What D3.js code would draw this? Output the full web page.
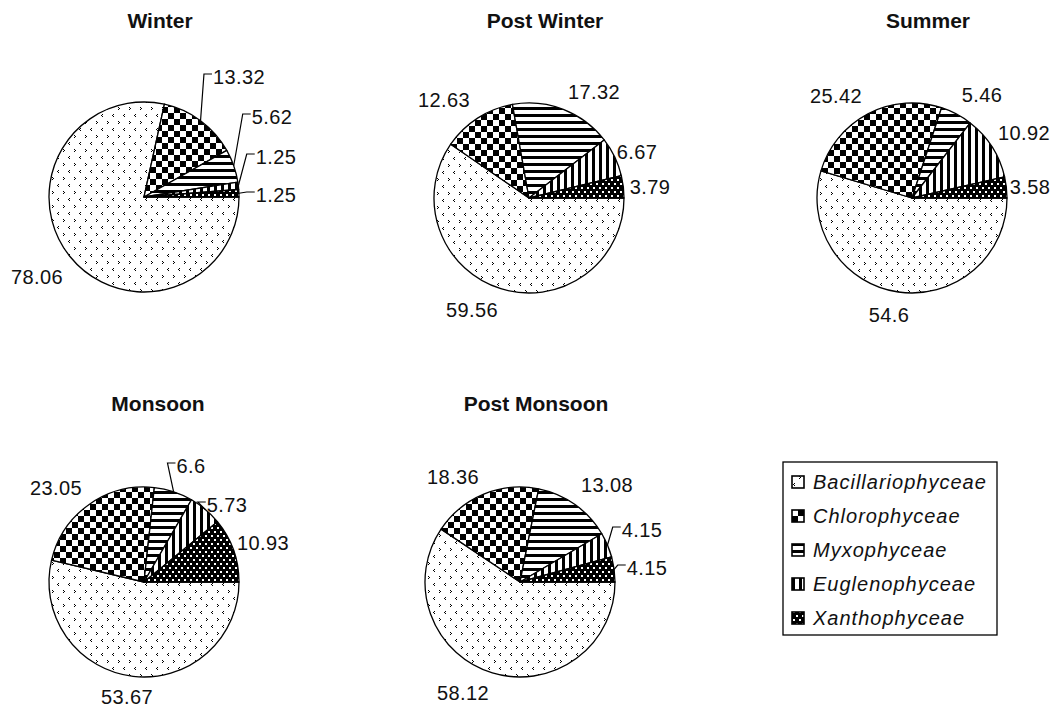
<!DOCTYPE html>
<html>
<head>
<meta charset="utf-8">
<script src="https://cdn.jsdelivr.net/npm/d3@7"></script>
<style>
  body { margin: 0; background: #fff; }
  svg { display: block; }
</style>
</head>
<body>
<svg id="chart" width="1059" height="709"></svg>
<script>
// Phytoplankton class composition (%) by season
const groups = ["Bacillariophyceae", "Chlorophyceae", "Myxophyceae", "Euglenophyceae", "Xanthophyceae"];
const seasons = ["Winter", "Post Winter", "Summer", "Monsoon", "Post Monsoon"];
const winter      = [78.06, 13.32, 5.62, 1.25, 1.25];
const postWinter  = [59.56, 12.63, 17.32, 6.67, 3.79];
const summer      = [54.6, 25.42, 5.46, 10.92, 3.58];
const monsoon     = [53.67, 23.05, 6.6, 5.73, 10.93];
const postMonsoon = [58.12, 18.36, 13.08, 4.15, 4.15];
const seasonValues = [winter, postWinter, summer, monsoon, postMonsoon];

// Layout: pie centres, title positions and label offsets (dx, dy from pie centre, leader line flag)
const R = 95;
const layout = [
  { cx: 144, cy: 197, tx: 160, ty: 20, labels: [[-107, 80, 0], [95, -120, 1], [128, -80, 1], [132, -40, 1], [132, -2, 1]] },
  { cx: 529, cy: 198, tx: 545, ty: 20, labels: [[-57, 112, 0], [-85, -98, 0], [65, -106, 0], [108, -46, 0], [121, -11, 0]] },
  { cx: 912, cy: 198, tx: 928, ty: 20, labels: [[-23, 117, 0], [-76, -102, 0], [70, -103, 0], [112, -65, 0], [118, -11, 0]] },
  { cx: 144, cy: 582, tx: 158, ty: 403, labels: [[-17, 115, 0], [-88, -94, 0], [47, -116, 1], [83, -77, 1], [119, -39, 0]] },
  { cx: 520, cy: 582, tx: 536, ty: 403, labels: [[-57, 111, 0], [-67, -105, 0], [87, -97, 0], [122, -52, 1], [127, -14, 1]] }
];

const svg = d3.select("#chart");
const defs = svg.append("defs");

function pattern(id, w, h, bg) {
  const p = defs.append("pattern")
    .attr("id", id)
    .attr("patternUnits", "userSpaceOnUse")
    .attr("width", w).attr("height", h);
  p.append("rect").attr("width", w).attr("height", h).attr("fill", bg);
  return p;
}
function px(p, pts, color, size) {
  pts.forEach(([x, y]) => p.append("rect")
    .attr("x", x).attr("y", y)
    .attr("width", size || 1).attr("height", size || 1)
    .attr("fill", color));
}

// Bacillariophyceae: sparse chevrons, "<" and ">" on alternate rows
const pBac = pattern("pat-bac", 11, 14, "#fff");
px(pBac, [[2, 1], [1, 2], [2, 3]], "#000");
px(pBac, [[7, 8], [8, 9], [7, 10]], "#000");
// Chlorophyceae: checkerboard
const pChl = pattern("pat-chl", 12, 12, "#fff");
pChl.append("rect").attr("x", 0).attr("y", 0).attr("width", 6).attr("height", 6).attr("fill", "#000");
pChl.append("rect").attr("x", 6).attr("y", 6).attr("width", 6).attr("height", 6).attr("fill", "#000");
// Myxophyceae: horizontal lines
const pMyx = pattern("pat-myx", 4, 7, "#fff");
pMyx.append("rect").attr("x", 0).attr("y", 0).attr("width", 4).attr("height", 3).attr("fill", "#000");
// Euglenophyceae: vertical lines
const pEug = pattern("pat-eug", 7, 4, "#fff");
pEug.append("rect").attr("x", 0).attr("y", 0).attr("width", 3).attr("height", 4).attr("fill", "#000");
// Xanthophyceae: black with white dots
const pXan = pattern("pat-xan", 6, 8, "#000");
px(pXan, [[1, 1], [4, 5]], "#fff", 2);

const fills = ["url(#pat-bac)", "url(#pat-chl)", "url(#pat-myx)", "url(#pat-eug)", "url(#pat-xan)"];

const pie = d3.pie().sort(null)
  .startAngle(Math.PI / 2)
  .endAngle(Math.PI / 2 + 2 * Math.PI);
const arc = d3.arc().innerRadius(0).outerRadius(R);
const edge = d3.arc().innerRadius(R).outerRadius(R);

const font = "'Liberation Sans', Arial, sans-serif";

seasonValues.forEach((vals, si) => {
  const L = layout[si];
  const g = svg.append("g").attr("transform", `translate(${L.cx},${L.cy})`);
  const arcs = pie(vals);

  g.selectAll("path.slice")
    .data(arcs)
    .join("path")
    .attr("class", "slice")
    .attr("d", arc)
    .attr("fill", (d, i) => fills[i])
    .attr("stroke", "#000")
    .attr("stroke-width", 1.3)
    .attr("stroke-linejoin", "round");

  // value labels
  arcs.forEach((d, i) => {
    const [dx, dy, leader] = L.labels[i];
    const t = g.append("text")
      .attr("x", dx).attr("y", dy)
      .attr("dy", "0.36em")
      .attr("text-anchor", "middle")
      .attr("font-family", font)
      .attr("font-size", 20)
      .attr("letter-spacing", 0.4)
      .attr("fill", "#111")
      .text(d.data);
    if (leader) {
      const w = t.node().getComputedTextLength();
      const left = dx - w / 2;
      const [ex, ey] = edge.centroid(d);
      const ly = dy - 3;
      g.append("polyline")
        .attr("points", [[ex, ey], [left - 9, ly], [left - 1, ly]].map(p => p.join(",")).join(" "))
        .attr("fill", "none")
        .attr("stroke", "#000")
        .attr("stroke-width", 1.2);
    }
  });

  svg.append("text")
    .attr("x", L.tx).attr("y", L.ty)
    .attr("dy", "0.36em")
    .attr("text-anchor", "middle")
    .attr("font-family", font)
    .attr("font-weight", "bold")
    .attr("font-size", 21)
    .attr("fill", "#111")
    .text(seasons[si]);
});

// Legend
const lg = svg.append("g");
lg.append("rect")
  .attr("x", 783).attr("y", 462)
  .attr("width", 214).attr("height", 173)
  .attr("fill", "#fff")
  .attr("stroke", "#000")
  .attr("stroke-width", 1.3);

const items = lg.selectAll("g.item")
  .data(groups)
  .join("g")
  .attr("class", "item")
  .attr("transform", (d, i) => `translate(792,${482 + i * 34})`);

items.append("rect")
  .attr("x", 0).attr("y", -6)
  .attr("width", 12).attr("height", 12)
  .attr("fill", (d, i) => fills[i])
  .attr("stroke", "#000")
  .attr("stroke-width", 1.6);

items.append("text")
  .attr("x", 21).attr("y", 0)
  .attr("dy", "0.36em")
  .attr("font-family", font)
  .attr("font-style", "italic")
  .attr("font-size", 20)
  .attr("letter-spacing", 1)
  .attr("fill", "#111")
  .text(d => d);
</script>
</body>
</html>
